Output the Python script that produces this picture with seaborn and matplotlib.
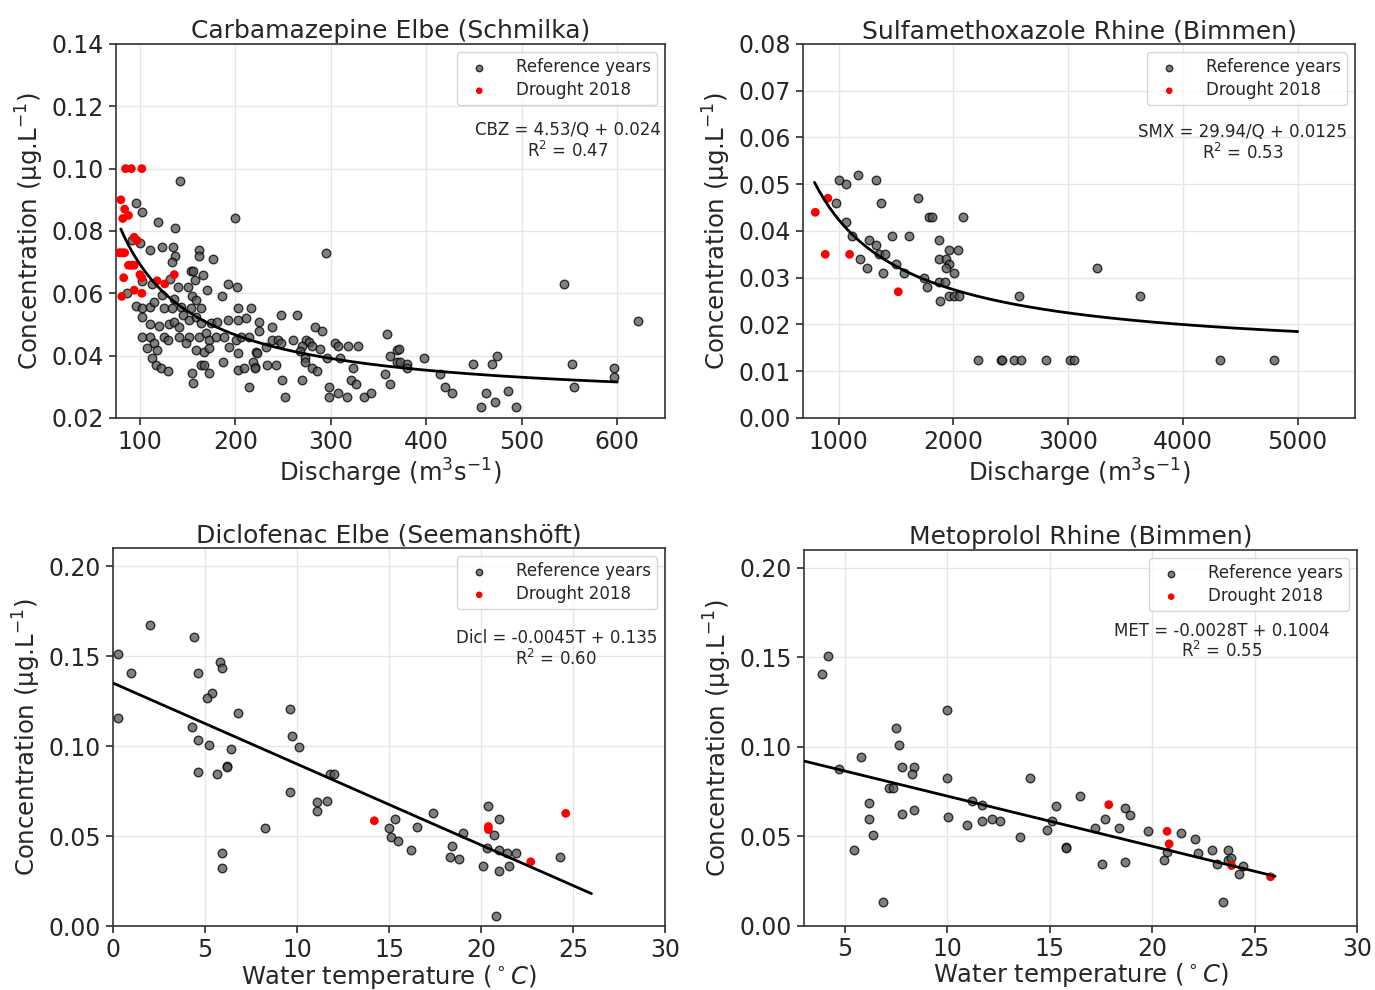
import numpy as np
import pandas as pd
import seaborn as sns
import matplotlib as mpl
import matplotlib.pyplot as plt

mpl.use('Agg')

# ---- Carbamazepine Elbe (Schmilka): discharge vs concentration ----
cbz_ref_q = [141.8, 95.5, 102.4, 119, 136.5, 200, 92, 99.7, 111, 122.8, 135, 136.5, 134, 161.4, 161.4,
             177, 154, 156, 166, 294.7, 102.4, 113, 131.6, 139.7, 150.8, 158, 170, 192, 201.8, 186,
             86.6, 95.5, 101.8, 101.8, 111, 114.7, 123.5, 125, 135.8, 134, 142.8, 155, 153, 159, 163.9,
             145, 111, 120, 130.5, 135.8, 141, 151.6, 158.6, 163.9, 174, 181, 192, 202.4, 202.4, 211,
             216.5, 102.4, 111, 114.7, 125, 129, 141, 151.6, 162, 169, 172.6, 179.7, 188, 193.7, 200.7,
             206, 214.7, 221.8, 107.7, 118.2, 113, 116.5, 121.8, 129.8, 148, 158.6, 167.4, 172.6, 155,
             155.8, 163.9, 167.4, 172.6, 186.6, 202.4, 209.5, 214.7, 220, 202.4, 225, 238.6, 247.4, 264.5,
             283, 290.8, 224.5, 238.6, 244.5, 248, 260, 274, 277, 270, 280.7, 288.4, 304, 307.7, 318,
             328, 358.6, 369, 231.6, 222.4, 218, 220, 233, 242, 272.6, 272.6, 268, 296, 310, 323.5,
             280, 285.6, 248.7, 270, 298, 320.7, 326, 357, 362, 252, 298, 307.7, 316.5, 334.7, 341.8,
             369, 361.4, 371, 372, 380, 379.7, 398, 414.7, 420, 427, 449, 456.8, 462, 469, 474.4,
             471.6, 486, 493.7, 543.9, 552, 555, 597, 597, 621.8]
cbz_ref_c = [0.096, 0.089, 0.086, 0.083, 0.081, 0.084, 0.077, 0.076, 0.074, 0.075, 0.075, 0.072, 0.070, 0.074, 0.072,
             0.071, 0.067, 0.067, 0.066, 0.073, 0.064, 0.063, 0.0645, 0.062, 0.062, 0.0644, 0.061, 0.063, 0.062, 0.059,
             0.060, 0.056, 0.0552, 0.0523, 0.0557, 0.0573, 0.0595, 0.0552, 0.0582, 0.0552, 0.0557, 0.059, 0.0552, 0.0577, 0.0552,
             0.053, 0.050, 0.0495, 0.050, 0.0509, 0.0493, 0.0515, 0.0523, 0.0504, 0.0504, 0.0509, 0.0515, 0.0552, 0.0515, 0.052,
             0.0552, 0.0461, 0.0461, 0.044, 0.0461, 0.045, 0.0461, 0.0461, 0.0461, 0.0472, 0.045, 0.0461, 0.0461, 0.0429, 0.045,
             0.0461, 0.0461, 0.0413, 0.0424, 0.0418, 0.0392, 0.037, 0.036, 0.0352, 0.044, 0.0418, 0.0413, 0.0424, 0.0343,
             0.0311, 0.037, 0.037, 0.0343, 0.038, 0.0354, 0.036, 0.030, 0.0365, 0.0408, 0.0509, 0.0493, 0.053, 0.053,
             0.0491, 0.048, 0.048, 0.045, 0.045, 0.044, 0.045, 0.045, 0.0445, 0.0431, 0.0431, 0.042, 0.044, 0.0431, 0.0431,
             0.0431, 0.047, 0.0418, 0.0429, 0.041, 0.038, 0.036, 0.037, 0.037, 0.0392, 0.038, 0.0416, 0.0392, 0.0392, 0.036,
             0.036, 0.0352, 0.0322, 0.0322, 0.030, 0.0322, 0.0309, 0.0341, 0.0309, 0.0266, 0.0266, 0.0279, 0.0266, 0.0266, 0.0279,
             0.038, 0.040, 0.042, 0.038, 0.0372, 0.036, 0.0392, 0.034, 0.030, 0.0279, 0.0372, 0.0236, 0.0279, 0.0372, 0.040,
             0.025, 0.0288, 0.0236, 0.063, 0.0372, 0.030, 0.036, 0.0331, 0.0511]
cbz_dry_q = [85, 91, 102, 80, 84, 88, 82, 94, 97, 78, 80, 82, 84, 88, 91, 94, 83, 100, 102, 81, 94, 102, 118, 126, 136]
cbz_dry_c = [0.100, 0.100, 0.100, 0.090, 0.087, 0.085, 0.084, 0.078, 0.077, 0.073, 0.073, 0.073, 0.073, 0.069, 0.069,
             0.069, 0.065, 0.066, 0.065, 0.059, 0.061, 0.060, 0.064, 0.063, 0.066]
cbz_fit = (4.53, 0.024)

# ---- Sulfamethoxazole Rhine (Bimmen) ----
smx_ref_q = [1003, 1061, 1166, 1322, 980, 1366, 1067, 1116, 1264, 1329, 1349, 1404, 1183, 1244, 1383, 1462,
             1610, 1500, 1569, 1694, 1788, 1815, 2084, 1875, 1959, 2041, 1875, 1938, 1959, 1938, 2006, 1745,
             1774, 1875, 1930, 1880, 1959, 2003, 2049, 2575, 2214, 2412, 2420, 2530, 2587, 2804, 3013, 3048,
             3255, 3629, 4320, 4791]
smx_ref_c = [0.051, 0.050, 0.052, 0.051, 0.046, 0.046, 0.042, 0.039, 0.038, 0.037, 0.035, 0.035, 0.034, 0.032, 0.031, 0.039,
             0.039, 0.033, 0.031, 0.047, 0.043, 0.043, 0.043, 0.038, 0.036, 0.036, 0.034, 0.034, 0.033, 0.032, 0.031, 0.030,
             0.028, 0.029, 0.029, 0.025, 0.026, 0.026, 0.026, 0.026, 0.0125, 0.0125, 0.0125, 0.0125, 0.0125, 0.0125, 0.0125, 0.0125,
             0.032, 0.026, 0.0125, 0.0125]
smx_dry_q = [907, 797, 884, 1096, 1520]
smx_dry_c = [0.047, 0.044, 0.035, 0.035, 0.027]
smx_fit = (29.94, 0.0125)

# ---- Diclofenac Elbe (Seemanshoeft): water temperature ----
dicl_ref_t = [0.29, 0.29, 0.98, 2.01, 4.4, 4.6, 5.82, 5.9, 5.4, 5.09, 6.8, 4.29, 4.6, 5.2, 6.4, 6.18, 6.2, 4.6, 5.67,
              5.9, 5.9, 8.28, 9.62, 9.71, 10.1, 9.62, 11.1, 11.1, 11.61, 11.8, 12.0, 15.3, 15.0, 15.1, 15.5, 16.2,
              16.5, 17.4, 18.4, 18.3, 18.8, 19.0, 20.4, 21.0, 20.7, 20.3, 20.1, 21.0, 21.0, 21.4, 21.5, 21.9, 20.8,
              24.3]
dicl_ref_c = [0.151, 0.1157, 0.1406, 0.1675, 0.1606, 0.1406, 0.1465, 0.1435, 0.1296, 0.1266, 0.1185, 0.1105, 0.1035,
              0.1007, 0.0984, 0.0891, 0.0882, 0.0854, 0.0845, 0.0405, 0.0325, 0.0544, 0.1205, 0.1055, 0.0995, 0.0747,
              0.0687, 0.0637, 0.0696, 0.0845, 0.0845, 0.0594, 0.0544, 0.0496, 0.0474, 0.0423, 0.0553, 0.0626, 0.0446,
              0.0386, 0.0375, 0.0517, 0.0665, 0.0594, 0.0505, 0.0436, 0.0334, 0.0423, 0.0306, 0.0405, 0.0334, 0.0405,
              0.0056, 0.0386]
dicl_dry_t = [14.2, 20.4, 20.4, 22.7, 24.6]
dicl_dry_c = [0.0585, 0.0553, 0.0536, 0.0357, 0.0626]
dicl_fit = (-0.0045, 0.135)

# ---- Metoprolol Rhine (Bimmen) ----
met_ref_t = [3.89, 4.18, 4.71, 5.77, 5.44, 6.19, 6.17, 6.38, 6.84, 7.17, 7.33, 7.48, 7.66, 7.79, 8.39, 8.29, 7.79,
             8.39, 9.97, 9.97, 10.05, 10.98, 11.2, 11.68, 11.68, 12.19, 12.58, 13.57, 14.05, 14.88, 15.1, 15.3,
             15.79, 15.79, 16.49, 17.68, 17.19, 17.55, 18.69, 18.9, 18.38, 18.69, 19.8, 20.73, 20.6, 21.43, 22.08,
             22.25, 22.93, 23.18, 23.7, 23.7, 23.83, 24.23, 24.43, 23.45]
met_ref_c = [0.1408, 0.1508, 0.0876, 0.0945, 0.0425, 0.0685, 0.0596, 0.0505, 0.0132, 0.0769, 0.0769, 0.1107, 0.1007,
             0.0886, 0.0886, 0.0847, 0.0626, 0.0645, 0.1205, 0.0824, 0.0606, 0.0564, 0.0695, 0.0676, 0.0587, 0.0596,
             0.0587, 0.0496, 0.0824, 0.0537, 0.0587, 0.0667, 0.044, 0.0435, 0.0726, 0.0596, 0.0546, 0.0345, 0.0657,
             0.0617, 0.0546, 0.0357, 0.0527, 0.0411, 0.0366, 0.0516, 0.0485, 0.0407, 0.0425, 0.0345, 0.0425, 0.0369,
             0.0379, 0.0286, 0.0336, 0.0132]
met_dry_t = [17.88, 20.73, 20.83, 23.88, 25.78]
met_dry_c = [0.0676, 0.0527, 0.0457, 0.0336, 0.0273]
met_fit = (-0.0028, 0.1004)

sns.set_theme(style='ticks')
plt.rcParams['font.family'] = ['DejaVu Sans']

fig = plt.figure(figsize=(13.75, 9.9), dpi=100)
axes = [fig.add_axes([0.0844, 0.5778, 0.3993, 0.3778]),
        fig.add_axes([0.5840, 0.5778, 0.4015, 0.3778]),
        fig.add_axes([0.0822, 0.0646, 0.4015, 0.3818]),
        fig.add_axes([0.5847, 0.0650, 0.4022, 0.3796])]


def draw_panel(ax, xr, yr, xd, yd, line_x, line_y, title, xlabel, eq, eq_pos, xpad=2):
    ref = pd.DataFrame({'x': xr, 'y': yr})
    dry = pd.DataFrame({'x': xd, 'y': yd})
    fit = pd.DataFrame({'x': line_x, 'y': line_y})
    sns.scatterplot(data=ref, x='x', y='y', ax=ax, color='#555555', edgecolor='black',
                    linewidth=1.0, alpha=0.75, s=38, label='Reference years', zorder=3)
    sns.scatterplot(data=dry, x='x', y='y', ax=ax, color='red', edgecolor='none',
                    s=40, label='Drought 2018', zorder=4)
    sns.lineplot(data=fit, x='x', y='y', ax=ax, color='black', linewidth=2, zorder=5)
    ax.grid(True, color='#e6e6e6', linewidth=1)
    ax.set_axisbelow(True)
    for sp in ax.spines.values():
        sp.set_color('#333333')
        sp.set_linewidth(1.2)
    ax.tick_params(labelsize=17, length=5, color='#333333')
    ax.set_title(title, fontsize=18, pad=4)
    ax.set_xlabel(xlabel, fontsize=17.5, labelpad=xpad)
    ax.set_ylabel('Concentration (µg.L$^{-1}$)', fontsize=17.6)
    ax.text(eq_pos[0], eq_pos[1], eq, transform=ax.transAxes, ha='center', va='center',
            fontsize=12, multialignment='center', linespacing=1.1)
    leg = ax.legend(loc='upper right', fontsize=12, markerscale=0.75, handletextpad=1.2,
                    borderpad=0.35, labelspacing=0.3, frameon=True)
    leg.get_frame().set_edgecolor('#cccccc')


# top left
q1 = np.linspace(80, 600, 200)
draw_panel(axes[0], cbz_ref_q, cbz_ref_c, cbz_dry_q, cbz_dry_c, q1, cbz_fit[0] / q1 + cbz_fit[1],
           'Carbamazepine Elbe (Schmilka)', 'Discharge (m$^3$s$^{-1}$)',
           'CBZ = 4.53/Q + 0.024\nR$^2$ = 0.47', (0.823, 0.74))
axes[0].set_xlim(75, 650)
axes[0].set_ylim(0.02, 0.14)
axes[0].set_xticks([100, 200, 300, 400, 500, 600])
axes[0].set_yticks([0.02, 0.04, 0.06, 0.08, 0.10, 0.12, 0.14])
axes[0].set_yticklabels(['0.02', '0.04', '0.06', '0.08', '0.10', '0.12', '0.14'])

# top right
q2 = np.linspace(790, 5000, 200)
draw_panel(axes[1], smx_ref_q, smx_ref_c, smx_dry_q, smx_dry_c, q2, smx_fit[0] / q2 + smx_fit[1],
           'Sulfamethoxazole Rhine (Bimmen)', 'Discharge (m$^3$s$^{-1}$)',
           'SMX = 29.94/Q + 0.0125\nR$^2$ = 0.53', (0.797, 0.735))
axes[1].set_xlim(690, 5500)
axes[1].set_ylim(0, 0.08)
axes[1].set_xticks([1000, 2000, 3000, 4000, 5000])
axes[1].set_yticks(np.arange(0, 0.081, 0.01))
axes[1].set_yticklabels(['0.%02d' % i for i in range(9)])

# bottom left
t3 = np.array([0, 26])
draw_panel(axes[2], dicl_ref_t, dicl_ref_c, dicl_dry_t, dicl_dry_c, t3, dicl_fit[0] * t3 + dicl_fit[1],
           'Diclofenac Elbe (Seemanshöft)', 'Water temperature ($^\\circ C$)',
           'Dicl = -0.0045T + 0.135\nR$^2$ = 0.60', (0.803, 0.733), xpad=1)
axes[2].set_xlim(0, 30)
axes[2].set_ylim(0, 0.21)
axes[2].set_xticks([0, 5, 10, 15, 20, 25, 30])
axes[2].set_yticks([0, 0.05, 0.10, 0.15, 0.20])
axes[2].set_yticklabels(['0.00', '0.05', '0.10', '0.15', '0.20'])

# bottom right
t4 = np.array([3, 26])
draw_panel(axes[3], met_ref_t, met_ref_c, met_dry_t, met_dry_c, t4, met_fit[0] * t4 + met_fit[1],
           'Metoprolol Rhine (Bimmen)', 'Water temperature ($^\\circ C$)',
           'MET = -0.0028T + 0.1004\nR$^2$ = 0.55', (0.756, 0.756), xpad=0)
axes[3].set_xlim(3, 30)
axes[3].set_ylim(0, 0.21)
axes[3].set_xticks([5, 10, 15, 20, 25, 30])
axes[3].set_yticks([0, 0.05, 0.10, 0.15, 0.20])
axes[3].set_yticklabels(['0.00', '0.05', '0.10', '0.15', '0.20'])

fig.savefig('out.png', dpi=100)
plt.close('all')
